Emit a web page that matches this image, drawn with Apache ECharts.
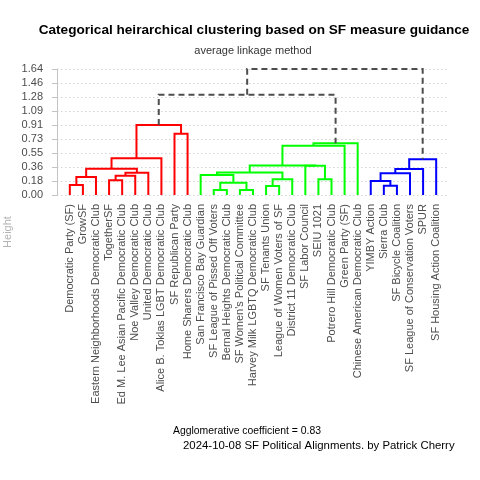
<!DOCTYPE html>
<html><head><meta charset="utf-8">
<script src="https://cdn.jsdelivr.net/npm/echarts@6/dist/echarts.min.js"></script>
<style>html,body{margin:0;padding:0;background:#fff}#c{width:480px;height:480px}</style>
</head><body><div id="c"></div>
<script>
// Leaves in dendrogram order (left to right)
const leafLabels = [
  'Democratic Party (SF)', 'GrowSF', 'Eastern Neighborhoods Democratic Club', 'TogetherSF',
  'Ed M. Lee Asian Pacific Democratic Club', 'Noe Valley Democratic Club', 'United Democratic Club',
  'Alice B. Toklas LGBT Democratic Club', 'SF Republican Party', 'Home Sharers Democratic Club',
  'San Francisco Bay Guardian', 'SF League of Pissed Off Voters', 'Bernal Heights Democratic Club',
  "SF Women's Political Committee", 'Harvey Milk LGBTQ Democratic Club', 'SF Tenants Union',
  'League of Women Voters of SF', 'District 11 Democratic Club', 'SF Labor Council', 'SEIU 1021',
  'Potrero Hill Democratic Club', 'Green Party (SF)', 'Chinese American Democratic Club',
  'YIMBY Action', 'Sierra Club', 'SF Bicycle Coalition', 'SF League of Conservation Voters',
  'SPUR', 'SF Housing Action Coalition'
];
// hclust-style merges: negative = leaf (1-based position), positive = earlier merge (1-based)
const mergeLeft   = [ -1,  1,  -4,  3,  4,  2,  6,  -9,  7, -12, -14, 10, -11, -16, 14, 13, -20, -19, 16, 19, 20, -25, -24, 23, 24, 25,  9, 27];
const mergeRight  = [ -2, -3,  -5, -6, -7,  5, -8, -10,  8, -13, -15, 11,  12, -17, -18, 15, -21,  17, 18, -22, -23, -26, 22, -27, -28, -29, 21, 26];
const mergeHeight = [0.130, 0.234, 0.191, 0.251, 0.290, 0.342, 0.478, 0.798, 0.911,
                     0.065, 0.065, 0.160, 0.260, 0.117, 0.204, 0.293, 0.204, 0.381, 0.384, 0.642, 0.673,
                     0.121, 0.182, 0.282, 0.338, 0.465,
                     1.305, 1.640];
const clusterCount = 3;
const clusterColors = ['#FF0000', '#00FF00', '#0000FF'];
const yMax = 1.64;
const yTickCount = 9;
const titleText = 'Categorical heirarchical clustering based on SF measure guidance';
const subtitleText = 'average linkage method';
const yAxisTitle = 'Height';
const agglomerativeCoefficient = 0.83;
const captionText = '2024-10-08 SF Political Alignments. by Patrick Cherry';

// ---- build dendrogram segments from merges ----
const mx = [];
function nodeX(c) { return c < 0 ? (-c - 1) : mx[c - 1]; }
function nodeH(c) { return c < 0 ? 0 : mergeHeight[c - 1]; }
for (let i = 0; i < mergeLeft.length; i++) mx.push((nodeX(mergeLeft[i]) + nodeX(mergeRight[i])) / 2);
const order = mergeHeight.map((h, i) => i).sort((a, b) => mergeHeight[b] - mergeHeight[a]);
const topSet = new Set(order.slice(0, clusterCount - 1));
const roots = [];
topSet.forEach(i => [mergeLeft[i], mergeRight[i]].forEach(c => {
  if (!(c > 0 && topSet.has(c - 1))) roots.push(c);
}));
function minLeaf(c) { return c < 0 ? -c - 1 : Math.min(minLeaf(mergeLeft[c - 1]), minLeaf(mergeRight[c - 1])); }
roots.sort((a, b) => minLeaf(a) - minLeaf(b));
const mergeColor = new Array(mergeLeft.length);
function paint(c, col) { if (c > 0) { mergeColor[c - 1] = col; paint(mergeLeft[c - 1], col); paint(mergeRight[c - 1], col); } }
roots.forEach((r, k) => paint(r, clusterColors[k]));
const segs = mergeLeft.map((a, i) => {
  const b = mergeRight[i], h = mergeHeight[i], top = topSet.has(i);
  return {
    coords: [[nodeX(a), nodeH(a)], [nodeX(a), h], [nodeX(b), h], [nodeX(b), nodeH(b)]],
    lineStyle: { color: top ? '#4d4d4d' : mergeColor[i], type: top ? [6, 4] : 'solid', width: 2, opacity: 1 }
  };
});

const FONT = 'Liberation Sans, Arial, sans-serif';
const chart = echarts.init(document.getElementById('c'), null, { renderer: 'canvas' });
chart.setOption({
  animation: false,
  backgroundColor: '#ffffff',
  grid: { left: 57, right: 31, top: 69, bottom: 285, containLabel: false },
  xAxis: {
    type: 'value', min: -0.98, max: leafLabels.length - 1 + 0.98,
    axisLine: { show: false, onZero: false }, axisTick: { show: false }, splitLine: { show: false },
    axisLabel: {
      customValues: leafLabels.map((_, i) => i),
      formatter: v => leafLabels[Math.round(v)],
      rotate: 90, margin: 9, fontSize: 11, color: '#4d4d4d', fontFamily: FONT, hideOverlap: false
    }
  },
  yAxis: {
    type: 'value', min: 0, max: yMax, interval: yMax / yTickCount,
    axisLine: { show: true, onZero: false, lineStyle: { color: '#c4c4c4', width: 1 } },
    axisTick: { show: true, length: 5, lineStyle: { color: '#c4c4c4' } },
    splitLine: { show: true, lineStyle: { color: '#d4d4d4', type: [1.5, 2.5], width: 1 } },
    axisLabel: { formatter: v => v.toFixed(2), fontSize: 11, color: '#4d4d4d', margin: 14, fontFamily: FONT }
  },
  series: [{
    type: 'lines', coordinateSystem: 'cartesian2d', polyline: true, silent: true,
    lineStyle: { width: 2, opacity: 1 }, data: segs, z: 5
  }],
  graphic: [
    { type: 'text', x: 254, y: 30, style: { text: titleText, font: 'bold 13.6px ' + FONT, fill: '#000', textAlign: 'center', textVerticalAlign: 'middle' } },
    { type: 'text', x: 253, y: 51, style: { text: subtitleText, font: '11px ' + FONT, fill: '#333', textAlign: 'center', textVerticalAlign: 'middle' } },
    { type: 'text', x: 8, y: 232, rotation: Math.PI / 2, style: { text: yAxisTitle, font: '11px ' + FONT, fill: '#b3b3b3', textAlign: 'center', textVerticalAlign: 'middle' } },
    { type: 'text', x: 173, y: 431, style: { text: 'Agglomerative coefficient = ' + agglomerativeCoefficient.toFixed(2), font: '10.4px ' + FONT, fill: '#000', textAlign: 'left', textVerticalAlign: 'middle' } },
    { type: 'text', x: 183, y: 446, style: { text: captionText, font: '11.4px ' + FONT, fill: '#000', textAlign: 'left', textVerticalAlign: 'middle' } }
  ]
});
</script></body></html>
